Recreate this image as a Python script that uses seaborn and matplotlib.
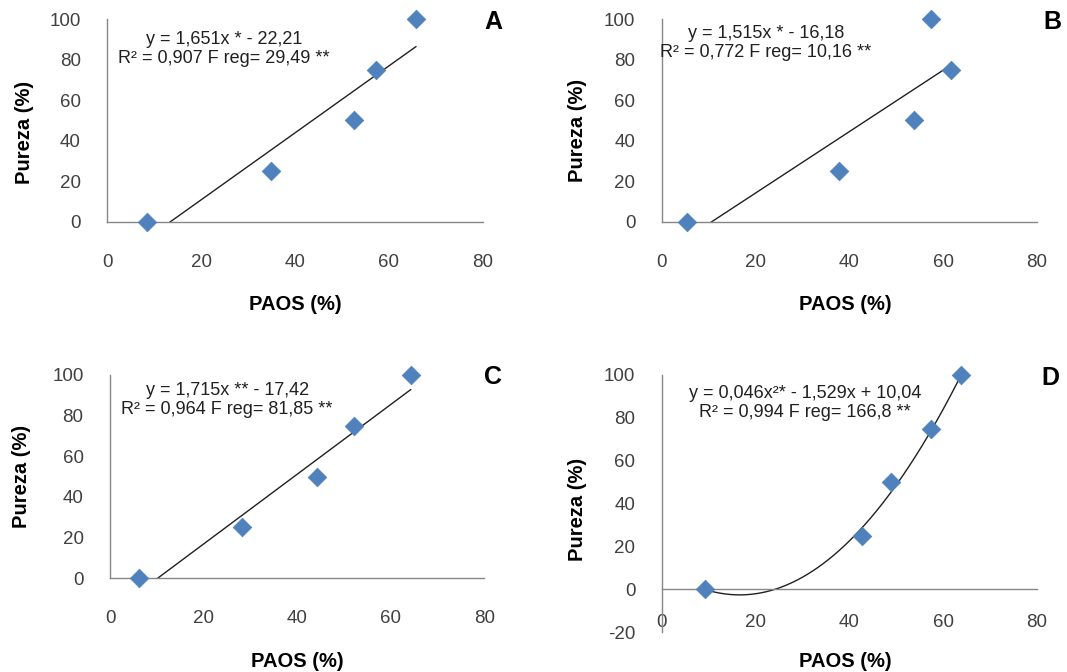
import numpy as np
import pandas as pd
import matplotlib
matplotlib.use("Agg")
import matplotlib.pyplot as plt
import seaborn as sns

# ---------------- data ----------------
pureza = [0, 25, 50, 75, 100]
paos_a = [8.4, 34.8, 52.6, 57.3, 65.8]
paos_b = [5.3, 37.9, 53.7, 61.8, 57.4]
paos_c = [6.2, 28.3, 44.3, 52.2, 64.3]
paos_d = [9.2, 42.7, 48.9, 57.4, 63.8]

coef_a = [1.651, -22.21]
coef_b = [1.515, -16.18]
coef_c = [1.715, -17.42]
coef_d = [0.046, -1.529, 10.04]

eq_a = "y = 1,651x * - 22,21\nR² = 0,907 F reg= 29,49 **"
eq_b = "y = 1,515x * - 16,18\nR² = 0,772 F reg= 10,16 **"
eq_c = "y = 1,715x ** - 17,42\nR² = 0,964 F reg= 81,85 **"
eq_d = "y = 0,046x²* - 1,529x + 10,04\nR² = 0,994 F reg= 166,8 **"

letters = ["A", "B", "C", "D"]
x_ticks = [0, 20, 40, 60, 80]
y_ticks = [0, 20, 40, 60, 80, 100]
y_ticks_d = [-20, 0, 20, 40, 60, 80, 100]
x_label = "PAOS (%)"
y_label = "Pureza (%)"

# ---------------- style ----------------
sns.set_theme(style="white")
plt.rcParams["font.family"] = ["Liberation Sans", "DejaVu Sans"]
plt.rcParams["axes.unicode_minus"] = False

BLUE = "#4F81BD"
AXC = "#868686"
TXT = "#404040"

fig = plt.figure(figsize=(10.67, 6.72), dpi=100)
fig.patch.set_facecolor("white")

panels = [
    dict(pos=[0.1006, 0.6701, 0.3518, 0.3016], x=paos_a, coef=coef_a, eq=eq_a,
         eqpos=(0.311, 0.852), ylab=(-0.195, 0.44), xlab=(0.5, -0.36),
         letter=(0.462, 0.967), d=False),
    dict(pos=[0.6202, 0.6701, 0.3515, 0.3016], x=paos_b, coef=coef_b, eq=eq_b,
         eqpos=(0.278, 0.882), ylab=(-0.20, 0.45), xlab=(0.49, -0.36),
         letter=(0.986, 0.967), d=False),
    dict(pos=[0.1031, 0.1394, 0.3508, 0.3026], x=paos_c, coef=coef_c, eq=eq_c,
         eqpos=(0.313, 0.877), ylab=(-0.21, 0.50), xlab=(0.5, -0.36),
         letter=(0.462, 0.439), d=False),
    dict(pos=[0.6202, 0.0595, 0.3515, 0.3825], x=paos_d, coef=coef_d, eq=eq_d,
         eqpos=(0.382, 0.891), ylab=(-0.20, 0.475), xlab=(0.49, -0.078),
         letter=(0.984, 0.4375), d=True),
]

for p, letter in zip(panels, letters):
    ax = fig.add_axes(p["pos"])
    df = pd.DataFrame({"PAOS": p["x"], "Pureza": pureza})
    xs = np.linspace(min(p["x"]), max(p["x"]), 200)
    fit = pd.DataFrame({"PAOS": xs, "Pureza": np.polyval(p["coef"], xs)})
    sns.lineplot(data=fit, x="PAOS", y="Pureza", ax=ax, color="#202020",
                 linewidth=1.0, zorder=2)
    sns.scatterplot(data=df, x="PAOS", y="Pureza", ax=ax, marker="D", s=90,
                    color=BLUE, edgecolor=BLUE, linewidth=0.5, zorder=3,
                    clip_on=False)

    ax.set_xlim(0, 80)
    ax.set_xticks(x_ticks)
    if p["d"]:
        ax.set_ylim(-20, 100)
        ax.set_yticks(y_ticks_d)
    else:
        ax.set_ylim(0, 100)
        ax.set_yticks(y_ticks)

    for s in ["top", "right"]:
        ax.spines[s].set_visible(False)
    for s in ["left", "bottom"]:
        ax.spines[s].set_color(AXC)
        ax.spines[s].set_linewidth(1.0)

    ax.tick_params(axis="both", direction="out", length=5, width=1,
                   color=AXC, labelcolor=TXT, labelsize=13.5)
    ax.tick_params(axis="x", pad=18)
    ax.tick_params(axis="y", pad=14)

    if p["d"]:
        ax.spines["bottom"].set_position(("data", 0))
        ax.tick_params(axis="x", labelbottom=False)
        sec = ax.secondary_xaxis(0.082)
        sec.set_xticks(x_ticks)
        sec.tick_params(axis="x", length=0, pad=2, labelcolor=TXT,
                        labelsize=13.5)
        sec.spines["bottom"].set_visible(False)

    ax.set_xlabel(x_label, fontsize=14.5, fontweight="bold", color="black",
                  va="top")
    ax.xaxis.set_label_coords(*p["xlab"])
    ax.set_ylabel(y_label, fontsize=14.5, fontweight="bold", color="black")
    ax.yaxis.set_label_coords(*p["ylab"])

    ax.text(p["eqpos"][0], p["eqpos"][1], p["eq"], transform=ax.transAxes,
            ha="center", va="center", multialignment="center",
            fontsize=13, color="#202020", linespacing=1.1)
    fig.text(p["letter"][0], p["letter"][1], letter, ha="center", va="center",
             fontsize=18, fontweight="bold", color="black")

fig.savefig("out.png", dpi=100, facecolor="white")
